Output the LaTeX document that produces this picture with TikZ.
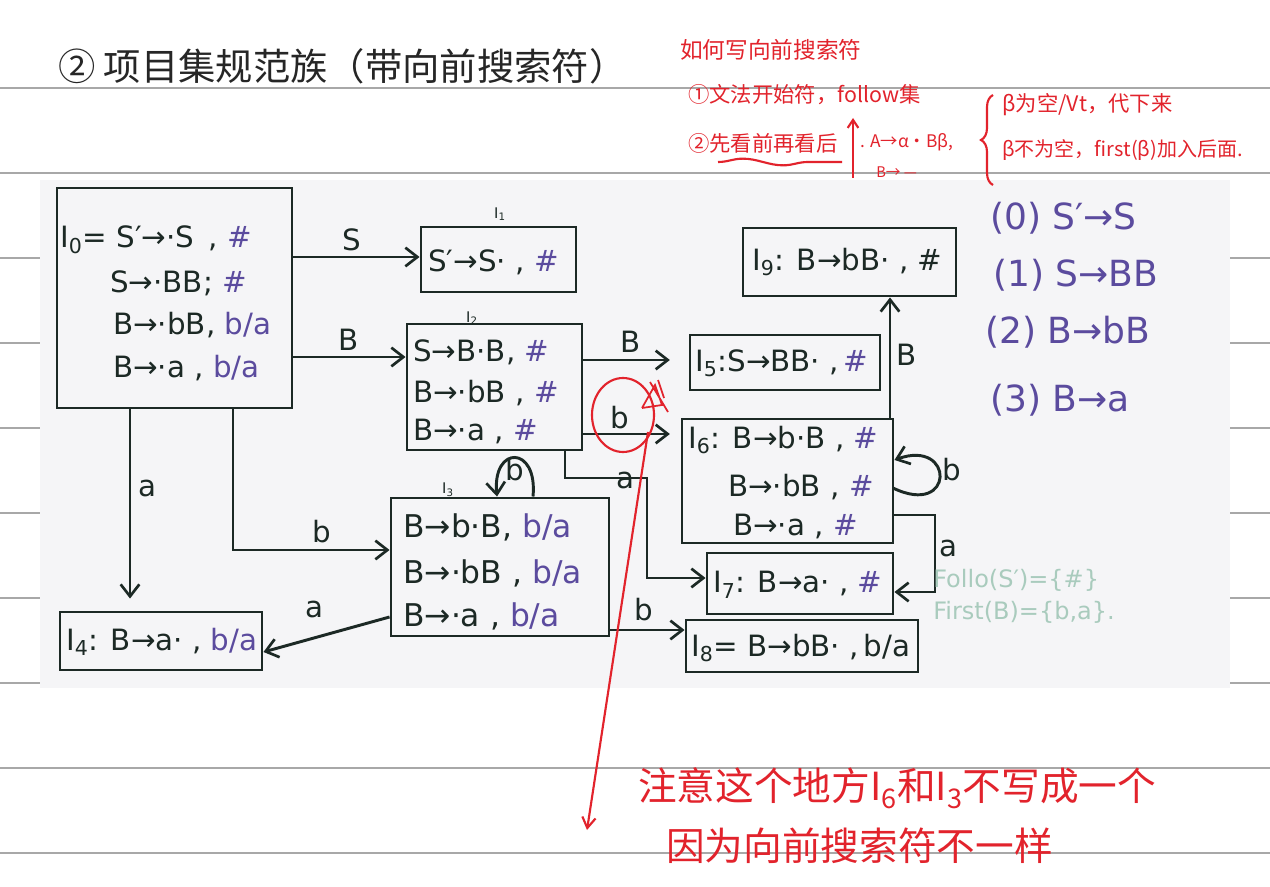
\documentclass[tikz,border=0pt]{standalone}
\usepackage{fontspec}
\setmainfont{DejaVu Sans}
\newfontfamily\cjk{Noto Sans CJK SC}
\usetikzlibrary{arrows.meta,fit,decorations.pathreplacing,decorations.pathmorphing}
\definecolor{ink}{HTML}{1C2925}
\definecolor{la}{HTML}{5B4B9E}
\definecolor{rd}{HTML}{E2232C}
\definecolor{gr}{HTML}{A9CBBD}
\definecolor{rule}{HTML}{A8A8A8}
\definecolor{shot}{HTML}{F5F5F7}
\newcommand\la[1]{\textcolor{la}{#1}}
\newcommand\Isub[1]{I\textsubscript{#1}}
\tikzset{
  box/.style={draw=ink, line width=2.2pt, inner sep=0pt},
  txt/.style={anchor=west, inner sep=0pt, text=ink, font=\fontsize{22}{25}\selectfont},
  bigtxt/.style={txt, font=\fontsize{23.5}{26}\selectfont},
  lab/.style={inner sep=1pt, text=ink, font=\fontsize{22}{25}\selectfont},
  tiny/.style={inner sep=0pt, text=ink, font=\fontsize{11}{12}\selectfont},
  arr/.style={draw=ink, line width=2.2pt, -{Straight Barb[length=9pt,width=14pt,line width=2pt]}},
  prod/.style={anchor=west, inner sep=0pt, text=la, font=\fontsize{27}{30}\selectfont},
  note/.style={anchor=west, inner sep=0pt, text=rd, font=\cjk\fontsize{16}{19}\selectfont},
  bignote/.style={anchor=west, inner sep=0pt, text=rd, font=\cjk\fontsize{29}{34}\selectfont},
  grn/.style={anchor=west, inner sep=0pt, text=gr, font=\fontsize{18}{21}\selectfont},
  redline/.style={draw=rd, line width=1.6pt},
}
\begin{document}
\begin{tikzpicture}[x=0.75pt,y=-0.75pt]
\useasboundingbox (0,0) rectangle (1270,887);
\fill[white] (0,0) rectangle (1270,887);
% ruled lines
\foreach \yy in {88,173,258,343,428,513,598,683,768,853}
  \draw[rule, line width=1.5pt] (0,\yy) -- (1270,\yy);
% screenshot area
\fill[shot] (40,180) rectangle (1230,688);

% title
\node[anchor=west, inner sep=0pt, text=black!85, font=\cjk\fontsize{28}{32}\selectfont] (title) at (58,66) {② 项目集规范族（带向前搜索符）};

% boxes
\node[box, fit={(57,188) (292,408)}] (I0) {};
\node[box, fit={(421,227) (576,292)}] (I1) {};
\node[box, fit={(407,324) (582,450)}] (I2) {};
\node[box, fit={(391,498) (609,636)}] (I3) {};
\node[box, fit={(60,612) (262,670)}] (I4) {};
\node[box, fit={(690,335) (880,390)}] (I5) {};
\node[box, fit={(682,419) (893,543)}] (I6) {};
\node[box, fit={(707,553) (893,614)}] (I7) {};
\node[box, fit={(686,620) (918,672)}] (I8) {};
\node[box, fit={(743,228) (956,296)}] (I9) {};

% I0 text
\node[txt] (t0a) at (60,240) {\Isub{0}= S′→·S \,, \la{\#}};
\node[txt] (t0b) at (110,283) {S→·BB; \la{\#}};
\node[txt] (t0c) at (113,325) {B→·bB, \la{b/a}};
\node[txt] (t0d) at (113,368) {B→·a , \la{b/a}};
% I1
\node[tiny] (n1) at (500,214) {\Isub{1}};
\node[txt] (t1a) at (428,262) {S′→S· , \la{\#}};
% I2
\node[tiny] (n2) at (472,318) {\Isub{2}};
\node[txt] (t2a) at (413,352) {S→B·B, \la{\#}};
\node[txt] (t2b) at (413,393) {B→·bB , \la{\#}};
\node[txt] (t2c) at (413,432) {B→·a , \la{\#}};
% I3
\node[tiny] (n3) at (448,490) {\Isub{3}};
\node[bigtxt] (t3a) at (403,527) {B→b·B, \la{b/a}};
\node[bigtxt] (t3b) at (403,573) {B→·bB , \la{b/a}};
\node[bigtxt] (t3c) at (403,616) {B→·a , \la{b/a}};
% I4
\node[txt] (t4a) at (66,642) {\Isub{4}: B→a· , \la{b/a}};
% I5
\node[txt] (t5a) at (695,363) {\Isub{5}:S→BB· ,\,\la{\#}};
% I6
\node[txt] (t6a) at (688,440) {\Isub{6}: B→b·B , \la{\#}};
\node[txt] (t6b) at (728,487) {B→·bB , \la{\#}};
\node[txt] (t6c) at (733,527) {B→·a , \la{\#}};
% I7
\node[txt] (t7a) at (713,585) {\Isub{7}: B→a· , \la{\#}};
% I8
\node[txt] (t8a) at (691,648) {\Isub{8}= B→bB· ,\,b/a};
% I9
\node[txt] (t9a) at (752,262) {\Isub{9}: B→bB· , \#};

% helper coordinates
\coordinate (y257) at (0,257);
\coordinate (y357) at (0,357);
\coordinate (y360) at (0,360);
\coordinate (y434) at (0,434);
\coordinate (y460) at (0,460);
\coordinate (y550) at (0,550);
\coordinate (y578) at (0,578);
\coordinate (y592) at (0,592);
\coordinate (y515) at (0,515);
\coordinate (y617) at (0,617);
\coordinate (y650) at (0,652);
\coordinate (y630) at (0,630);
\coordinate (x130) at (130,0);
\coordinate (x233) at (233,0);
\coordinate (x497) at (497,0);
\coordinate (x533) at (533,0);
\coordinate (x565) at (565,0);
\coordinate (x890) at (890,0);
\coordinate (k1) at (647,478);
\coordinate (k2) at (935,592);
\coordinate (k3) at (893,488);

% edges
\draw[arr] (I0.east |- y257) -- (I1.west |- y257);
\node[lab] (eS) at (352,240) {S};
\draw[arr] (I0.east |- y357) -- (I2.west |- y357);
\node[lab] (eB0) at (349,340) {B};
\draw[arr, shorten >=9pt] (I0.south -| x130) -- (I4.north -| x130);
\node[lab] (ea0) at (147,488) {a};
\draw[arr] (I0.south -| x233) |- (I3.west |- y550);
\node[lab] (eb0) at (322,532) {b};
\draw[arr, shorten >=14pt] (I2.east |- y360) -- (I5.west |- y360);
\node[lab] (eB2) at (631,342) {B};
\draw[arr, shorten >=8pt] (I2.east |- y434) -- (I6.west |- y434);
\node[lab] (eb2) at (620,418) {b};
\draw[arr] (I2.south -| x565) |- (k1) |- (I7.west |- y578);
\node[lab] (ea2) at (625,480) {a};
\draw[arr] (I3.north -| x533) .. controls (538,445) and (492,445) .. (I3.north -| x497);
\node[lab] (eb3) at (515,470) {b};
\draw[arr] (I3.west |- y617) -- (I4.east |- y650);
\node[lab] (ea3) at (314,609) {a};
\draw[arr] (I3.east |- y630) -- (I8.west |- y630);
\node[lab] (eb3b) at (644,610) {b};
\draw[arr] (I6.north -| x890) -- (I9.south -| x890);
\node[lab] (eB6) at (907,355) {B};
\draw[arr] (k3) .. controls (955,518) and (955,438) .. (I6.east |- y460);
\node[lab] (eb6) at (952,470) {b};
\draw[arr] (I6.east |- y515) -| (k2) -- (I7.east |- y592);
\node[lab] (ea6) at (948,548) {a};

% productions
\node[prod] (p0) at (990,218) {(0) S′→S};
\node[prod] (p1) at (993,275) {(1) S→BB};
\node[prod] (p2) at (985,332) {(2) B→bB};
\node[prod] (p3) at (990,400) {(3) B→a};

% green notes
\node[grn] (g1) at (933,580) {Follo(S′)=\{\#\}};
\node[grn] (g2) at (933,612) {First(B)=\{b,a\}.};

% red annotations in diagram
\draw[redline] (623,415) ellipse [x radius=31, y radius=37];
\draw[redline, line width=1.3pt] (642,408) -- (655,385) -- (662,405) -- (642,408)
   (650,382) -- (668,412) (658,380) -- (664,398);
\coordinate (r1) at (648,432);
\coordinate (r2) at (587,830);
\draw[redline, -{Straight Barb[length=8pt,width=10pt]}] (r1) -- (r2);

\node[bignote] (b1) at (638,788) {注意这个地方I\textsubscript{6}和I\textsubscript{3}不写成一个};
\node[bignote] (b2) at (666,846) {因为向前搜索符不一样};

% top right notes
\node[note, font=\cjk\fontsize{17}{20}\selectfont] (h0) at (680,50) {如何写向前搜索符};
\node[note] (h1) at (688,95) {①文法开始符，follow集};
\node[note] (h2) at (688,143) {②先看前再看后};
\draw[redline, decorate, decoration={snake, amplitude=2.5pt, segment length=60pt}] (718,162) -- (842,162);
\coordinate (u1) at (853,178);
\coordinate (u2) at (853,118);
\draw[redline, -{Straight Barb[length=6pt,width=8pt]}] (u1) -- (u2);
\node[note, font=\cjk\fontsize{13}{15}\selectfont] (h3) at (860,142) {. A→α·Bβ,};
\node[note, font=\cjk\fontsize{11}{13}\selectfont] (h4) at (876,172) {B→ —};
\draw[redline, decorate, decoration={brace, amplitude=9pt}] (993,185) -- (993,95);
\node[note] (h5) at (1002,105) {β为空/Vt，代下来};
\node[note, font=\cjk\fontsize{15}{18}\selectfont] (h6) at (1002,150) {β不为空，first(β)加入后面.};
\end{tikzpicture}
\end{document}
